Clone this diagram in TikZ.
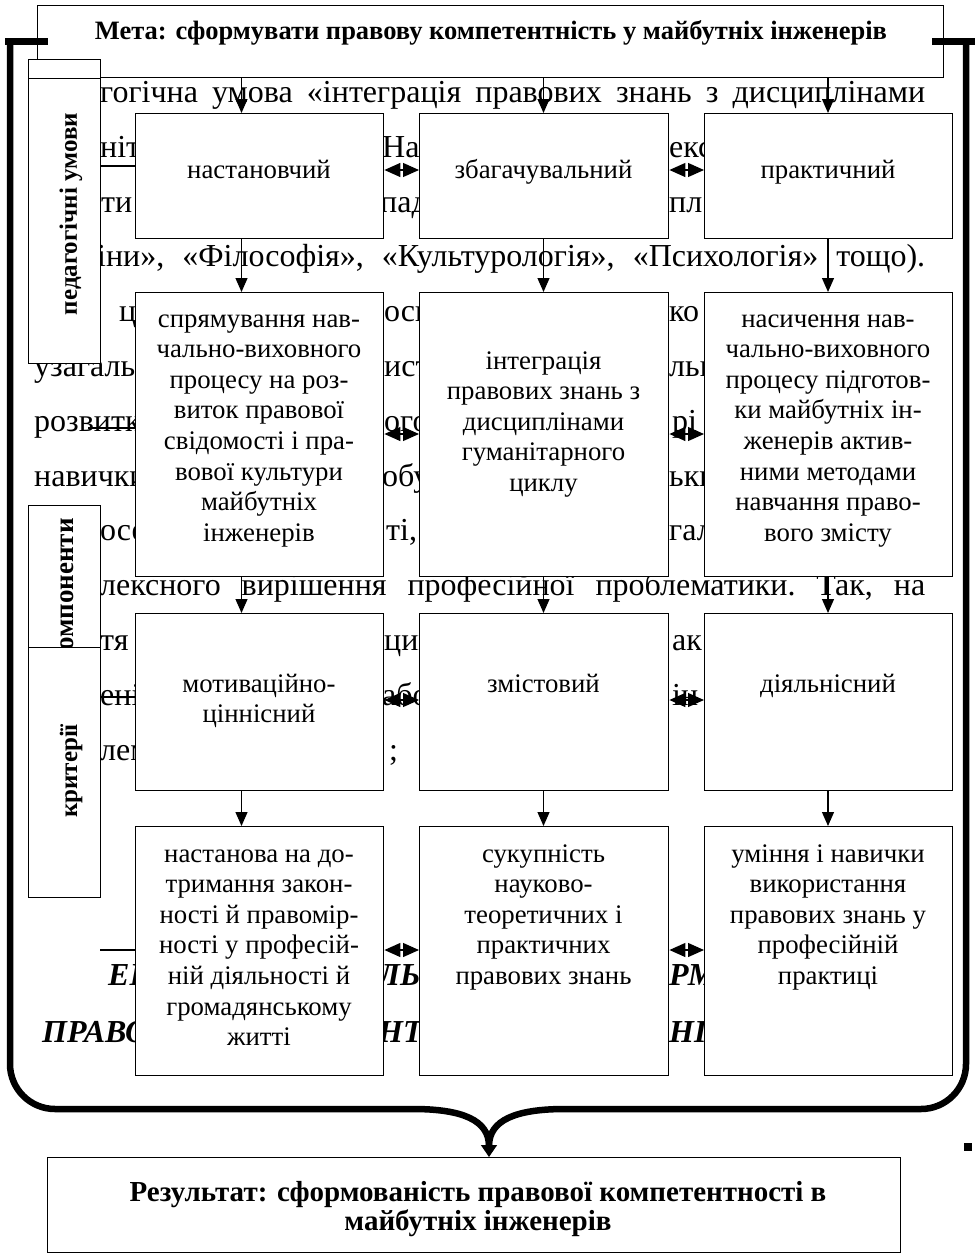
\documentclass[tikz,border=0pt]{standalone}
\usepackage{fontspec}
\setmainfont{Liberation Serif}
\usetikzlibrary{arrows.meta}
\tikzset{
  box/.style={draw=black, line width=1.4pt, fill=white, inner sep=0pt, anchor=north west},
  arr/.style={line width=1.2pt, -{Triangle[width=12pt,length=14pt]}},
  darr/.style={line width=1.2pt, {Triangle[width=14pt,length=16pt]}-{Triangle[width=14pt,length=16pt]}},
  bg/.style={inner sep=0pt, anchor=base west, font=\fontsize{32}{32}\selectfont},
  bgbi/.style={inner sep=0pt, anchor=base west, font=\fontsize{32}{32}\selectfont\bfseries\itshape},
  btxt/.style={inner sep=0pt, anchor=base},
  lbl/.style={rotate=90, font=\fontsize{25}{25}\selectfont\bfseries, inner sep=0pt},
  brace/.style={line width=6.5pt, line cap=butt, line join=round},
  thinln/.style={line width=1.2pt}
}
\newcommand{\bxt}[1]{\parbox[t]{246pt}{\centering\fontsize{26.8}{30.6}\selectfont #1}}
\begin{document}
\begin{tikzpicture}[x=1pt,y=-1pt]
\useasboundingbox (0,0) rectangle (975,1253);
% ---------- background text ----------
\node[bg] (l1) at (100,102) {\hbox to 825pt{гогічна\hfill умова\hfill «інтеграція\hfill правових\hfill знань\hfill з\hfill дисциплінами}};
\node[bg] (l2a) at (100,157) {ніт};
\node[bg] (l2b) at (382,157) {На};
\node[bg] (l2c) at (669,157) {екс};
\node[bg] (l3a) at (101,212) {ти};
\node[bg] (l3b) at (380,212) {пад};
\node[bg] (l3c) at (669,212) {пл};
\node[bg] (l4) at (97,266) {\hbox to 828pt{іни»,\hfill «Філософія»,\hfill «Культурологія»,\hfill «Психологія»\hfill тощо).}};
\node[bg] (l5a) at (119,321) {ц};
\node[bg] (l5b) at (384,321) {осн};
\node[bg] (l5c) at (669,321) {ко};
\node[bg] (l6a) at (34,376) {узагаль};
\node[bg] (l6b) at (384,376) {ист};
\node[bg] (l6c) at (669,376) {льн};
\node[bg] (l7a) at (34,431) {розвитк};
\node[bg] (l7b) at (384,431) {ого};
\node[bg] (l7c) at (672,431) {рі};
\node[bg] (l8a) at (34,486) {навички};
\node[bg] (l8b) at (382,486) {обу};
\node[bg] (l8c) at (669,486) {ьки};
\node[bg] (l9a) at (100,540) {осе};
\node[bg] (l9b) at (386,540) {ті,};
\node[bg] (l9c) at (669,540) {гал};
\node[bg] (l10) at (100,595) {\hbox to 825pt{лексного\hfill вирішення\hfill професійної\hfill проблематики.\hfill Так,\hfill на}};
\node[bg] (l11a) at (100,650) {тя};
\node[bg] (l11b) at (384,650) {цин};
\node[bg] (l11c) at (672,650) {ак};
\node[bg] (l12a) at (100,705) {ені};
\node[bg] (l12b) at (382,705) {або};
\node[bg] (l12c) at (672,705) {ін};
\node[bg] (l13a) at (100,760) {лем};
\node[bg] (l13b) at (389,760) {;};
\node[bgbi] (l14a) at (108,985) {ЕК};
\node[bgbi] (l14b) at (378,985) {ЛЬ};
\node[bgbi] (l14c) at (669,985) {РМ};
\node[bgbi] (l15a) at (42,1042) {ПРАВО};
\node[bgbi] (l15b) at (378,1042) {НТ};
\node[bgbi] (l15c) at (669,1042) {НІХ};
% short connector stubs
\coordinate (s1a) at (100,166); \coordinate (s1b) at (136,166);
\coordinate (s2a) at (88,428);  \coordinate (s2b) at (136,428);
\coordinate (s3a) at (100,697); \coordinate (s3b) at (136,697);
\coordinate (s4a) at (100,950); \coordinate (s4b) at (136,950);
\draw[thinln] (s1a) -- (s1b);
\draw[thinln] (s2a) -- (s2b);
\draw[thinln] (s3a) -- (s3b);
\draw[thinln] (s4a) -- (s4b);
% ---------- goal box ----------
\node[box, minimum width=906pt, minimum height=72pt] (meta) at (37,5) {};
\node[btxt, font=\fontsize{26.5}{26.5}\selectfont\bfseries] (metat) at (491,39) {Мета: сформувати правову компетентність у майбутніх інженерів};
% ---------- left label boxes ----------
\node[box, minimum width=72pt, minimum height=304pt] (lab1) at (28,59) {};
\draw[line width=1.4pt] (lab1.west |- meta.south) -- (lab1.east |- meta.south);
\node[lbl] (lab1t) at (71,214) {педагогічні умови};
\node[box, minimum width=72pt, minimum height=240pt] (lab2) at (28,505) {};
\node[lbl, font=\fontsize{27}{27}\selectfont\bfseries] (lab2t) at (67,592) {компоненти};
\node[box, minimum width=72pt, minimum height=250pt] (lab3) at (28,647) {};
\node[lbl] (lab3t) at (71,771) {критерії};
% ---------- grid boxes ----------
\node[box, minimum width=248pt, minimum height=125pt] (r1c1) at (135,113) {};
\node[box, minimum width=249pt, minimum height=125pt] (r1c2) at (419,113) {};
\node[box, minimum width=248pt, minimum height=125pt] (r1c3) at (704,113) {};
\node[box, minimum width=248pt, minimum height=284pt] (r2c1) at (135,292) {};
\node[box, minimum width=249pt, minimum height=284pt] (r2c2) at (419,292) {};
\node[box, minimum width=248pt, minimum height=284pt] (r2c3) at (704,292) {};
\node[box, minimum width=248pt, minimum height=177pt] (r3c1) at (135,613) {};
\node[box, minimum width=249pt, minimum height=177pt] (r3c2) at (419,613) {};
\node[box, minimum width=248pt, minimum height=177pt] (r3c3) at (704,613) {};
\node[box, minimum width=248pt, minimum height=249pt] (r4c1) at (135,826) {};
\node[box, minimum width=249pt, minimum height=249pt] (r4c2) at (419,826) {};
\node[box, minimum width=248pt, minimum height=249pt] (r4c3) at (704,826) {};
% texts
\node[btxt] (t11) at (259,178) {\bxt{настановчий}};
\node[btxt] (t12) at (543.5,178) {\bxt{збагачувальний}};
\node[btxt] (t13) at (828,178) {\bxt{практичний}};
\node[btxt] (t21) at (259,327) {\bxt{спрямування нав-\\чально-виховного\\процесу на роз-\\виток правової\\свідомості і пра-\\вової культури\\майбутніх\\інженерів}};
\node[btxt] (t22) at (543.5,369) {\bxt{інтеграція\\правових знань з\\дисциплінами\\гуманітарного\\циклу}};
\node[btxt] (t23) at (828,327) {\bxt{насичення нав-\\чально-виховного\\процесу підготов-\\ки майбутніх ін-\\женерів актив-\\ними методами\\навчання право-\\вого змісту}};
\node[btxt] (t31) at (259,692) {\bxt{мотиваційно-\\ціннісний}};
\node[btxt] (t32) at (543.5,692) {\bxt{змістовий}};
\node[btxt] (t33) at (828,692) {\bxt{діяльнісний}};
\node[btxt] (t41) at (259,862) {\bxt{настанова на до-\\тримання закон-\\ності й правомір-\\ності у професій-\\ній діяльності й\\громадянському\\житті}};
\node[btxt] (t42) at (543.5,862) {\bxt{сукупність\\науково-\\теоретичних і\\практичних\\правових знань}};
\node[btxt] (t43) at (828,862) {\bxt{уміння і навички\\використання\\правових знань у\\професійній\\практиці}};
% ---------- vertical arrows ----------
\coordinate (ax1) at (241.5,0);
\coordinate (ax2) at (543.5,0);
\coordinate (ax3) at (828,0);
\foreach \c/\a in {1/ax1,2/ax2,3/ax3}{
  \draw[arr] (meta.south -| \a) -- (r1c\c.north -| \a);
  \draw[arr] (r1c\c.south -| \a) -- (r2c\c.north -| \a);
  \draw[arr] (r2c\c.south -| \a) -- (r3c\c.north -| \a);
  \draw[arr] (r3c\c.south -| \a) -- (r4c\c.north -| \a);
}
% ---------- horizontal double arrows ----------
\coordinate (hy1) at (0,170);
\coordinate (hy2) at (0,434);
\coordinate (hy3) at (0,700);
\coordinate (hy4) at (0,950);
\foreach \r in {1,2,3,4}{
  \draw[darr] (r\r c1.east |- hy\r) -- (r\r c2.west |- hy\r);
  \draw[darr] (r\r c2.east |- hy\r) -- (r\r c3.west |- hy\r);
}
% ---------- big bracket ----------
\coordinate (capL1) at (5,41);  \coordinate (capL2) at (48,41);
\coordinate (capR1) at (932,41); \coordinate (capR2) at (975,41);
\coordinate (tip) at (489,1146);
\draw[line width=7pt] (capL1) -- (capL2);
\draw[line width=7pt] (capR1) -- (capR2);
\draw[brace] (10,38) -- (10,1064) arc[start angle=180, end angle=270, radius=45pt] -- (413,1109) .. controls (462,1109) and (489,1120) .. (tip);
\draw[brace] (966,38) -- (966,1064) arc[start angle=0, end angle=-90, radius=45pt] -- (565,1109) .. controls (516,1109) and (489,1120) .. (tip);
% ---------- result box ----------
\node[box, minimum width=853pt, minimum height=95pt] (res) at (47,1157) {};
\draw[line width=1.5pt, -{Triangle[width=16pt,length=12pt]}] (tip) -- (res.north -| tip);
\node[btxt] (rest) at (478,1201) {\parbox[t]{850pt}{\centering\fontsize{29}{29}\selectfont\bfseries Результат: сформованість правової компетентності в\\майбутніх інженерів}};
\fill (964,1143) rectangle (972,1151);
\end{tikzpicture}
\end{document}
